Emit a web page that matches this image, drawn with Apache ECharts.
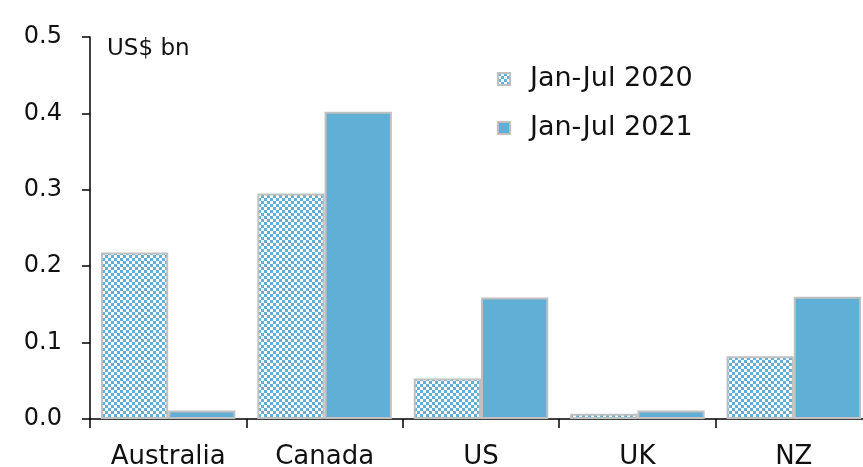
<!DOCTYPE html>
<html>
<head>
<meta charset="utf-8">
<script src="https://cdn.jsdelivr.net/npm/echarts@6/dist/echarts.min.js"></script>
<style>
html,body{margin:0;padding:0;background:#fff;}
#chart{width:863px;height:467px;}
</style>
</head>
<body>
<div id="chart"></div>
<script>
const categories = ['Australia', 'Canada', 'US', 'UK', 'NZ'];
const seriesNames = ['Jan-Jul 2020', 'Jan-Jul 2021'];
const values2020 = [0.218, 0.295, 0.053, 0.007, 0.082];
const values2021 = [0.011, 0.402, 0.159, 0.011, 0.160];
const yTicks = [0.0, 0.1, 0.2, 0.3, 0.4, 0.5];
const unitLabel = 'US$ bn';

const BLUE = '#5fafd7';
const BORDER = '#c0c0c0';
const FONT = 'DejaVu Sans';

const pc = document.createElement('canvas');
pc.width = 6; pc.height = 6;
const ctx = pc.getContext('2d');
ctx.fillStyle = '#ffffff'; ctx.fillRect(0, 0, 6, 6);
ctx.fillStyle = BLUE;
ctx.fillRect(0, 0, 3, 3);
ctx.fillRect(3, 3, 3, 3);

const chart = echarts.init(document.getElementById('chart'), null, {renderer: 'canvas'});
chart.setOption({
  animation: false,
  grid: {left: 90, width: 782, top: 37, bottom: 48, containLabel: false, outerBoundsMode: 'none'},
  legend: {
    orient: 'vertical',
    left: 492, top: 60,
    itemWidth: 12, itemHeight: 12,
    itemGap: 21,
    icon: 'rect',
    textStyle: {fontFamily: FONT, fontSize: 27, color: '#111', padding: [0, 0, 0, 15], lineHeight: 28},
    data: seriesNames
  },
  xAxis: {
    type: 'category',
    data: categories,
    axisLine: {lineStyle: {color: '#000', width: 1.5}},
    axisTick: {show: true, length: 9, inside: false, lineStyle: {color: '#000', width: 1.5}},
    axisLabel: {fontFamily: FONT, fontSize: 26, color: '#111', margin: 25}
  },
  yAxis: {
    type: 'value',
    min: yTicks[0], max: yTicks[yTicks.length - 1], interval: 0.1,
    splitLine: {show: false},
    axisLine: {show: true, lineStyle: {color: '#000', width: 1.5}},
    axisTick: {show: true, length: 8, lineStyle: {color: '#000', width: 1.5}},
    axisLabel: {fontFamily: FONT, fontSize: 24, color: '#111', margin: 28,
      formatter: v => v.toFixed(1)}
  },
  graphic: [{
    type: 'text', left: 107, top: 38,
    style: {text: unitLabel, fontFamily: FONT, fontSize: 23, fill: '#111'}
  }],
  series: [{
    name: seriesNames[0], type: 'bar', data: values2020,
    barGap: '0%', barCategoryGap: '14%',
    itemStyle: {color: {image: pc, repeat: 'repeat'}, borderColor: BORDER, borderWidth: 2}
  }, {
    name: seriesNames[1], type: 'bar', data: values2021,
    barGap: '0%', barCategoryGap: '14%',
    itemStyle: {color: BLUE, borderColor: BORDER, borderWidth: 2}
  }]
});
</script>
</body>
</html>
